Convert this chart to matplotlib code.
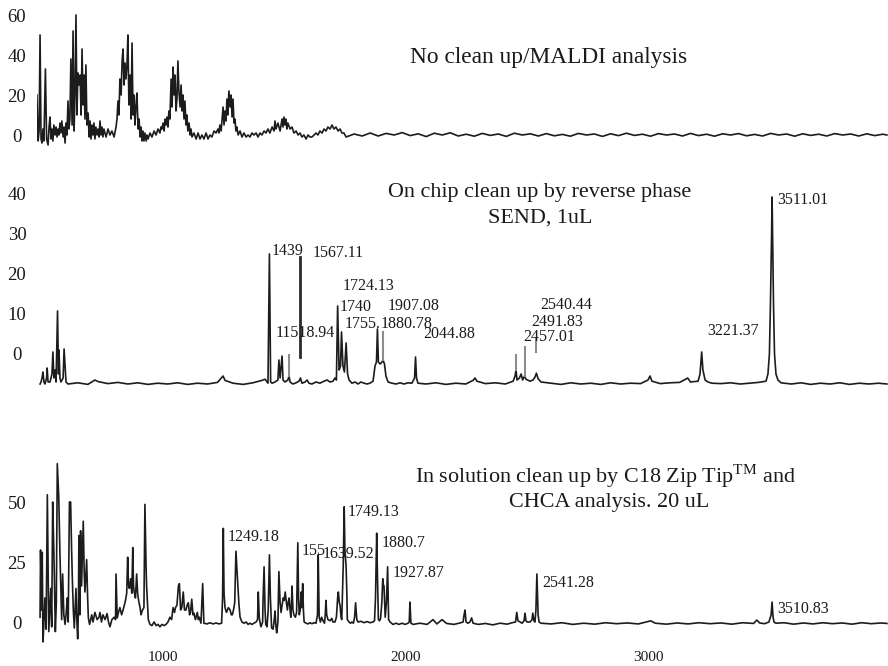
import matplotlib
matplotlib.use("Agg")
import matplotlib.pyplot as plt

plt.rcParams['font.family'] = ['Liberation Serif', 'DejaVu Serif']
plt.rcParams['mathtext.fontset'] = 'custom'
plt.rcParams['mathtext.rm'] = 'Liberation Serif'

# ---- panel 1: no clean up / MALDI (m/z, intensity)
maldi_trace = [
    (482, 20), (487, -3), (491, 2), (495, 50), (499, -2), (503, -4), (507, 3), (511, -3), (517, 33), (522, -2),
    (528, -5), (532, 4), (536, 9), (540, -2), (544, 3), (548, -3), (552, 5), (557, 0), (561, 4), (565, -1),
    (569, 3), (573, 0), (577, 6), (581, 1), (585, 7), (590, -1), (594, 4), (598, -4), (602, 6), (606, 0),
    (610, 17), (614, 3), (618, 8), (622, 38), (627, 5), (631, 52), (635, 2), (639, 20), (643, 60), (647, 10),
    (651, 31), (655, 25), (660, 30), (664, 10), (668, 43), (672, 15), (676, 30), (680, 8), (684, 35), (688, 5),
    (693, 11), (697, -1), (701, 7), (705, -2), (709, 5), (713, 0), (717, 6), (721, -2), (725, 4), (730, 0),
    (734, 3), (738, -1), (742, 7), (746, 0), (750, 4), (754, -1), (758, 3), (767, -1), (775, 3), (783, 0),
    (791, 2), (800, -1), (808, 4), (812, 8), (816, 17), (820, 10), (824, 28), (829, 20), (833, 37), (837, 43),
    (841, 25), (845, 36), (849, 28), (853, 35), (857, 50), (861, 15), (866, 30), (870, 8), (874, 46), (878, 10),
    (882, 20), (886, 5), (890, 14), (894, 21), (899, 3), (903, 8), (907, -1), (911, 4), (915, -3), (919, 2),
    (923, -3), (927, 1), (932, -3), (936, 0), (940, -2), (948, 1), (956, -1), (965, 2), (973, 0), (981, 3),
    (989, 1), (993, 4), (997, 3), (1002, 6), (1006, 2), (1010, 8), (1014, 5), (1018, 9), (1022, 4), (1026, 12),
    (1030, 8), (1035, 28), (1039, 14), (1043, 34), (1047, 20), (1051, 30), (1055, 12), (1059, 18), (1063, 37), (1067, 22),
    (1072, 14), (1076, 25), (1080, 12), (1084, 20), (1088, 8), (1092, 17), (1096, 5), (1100, 10), (1104, 2), (1109, 6),
    (1113, 0), (1117, 3), (1121, -1), (1129, 1), (1138, -2), (1146, 1), (1154, -2), (1162, 0), (1170, -2), (1179, 1),
    (1187, -2), (1195, 0), (1203, -1), (1212, 2), (1220, 1), (1228, 3), (1232, 1), (1236, 5), (1241, 2), (1245, 8),
    (1249, 14), (1253, 5), (1257, 12), (1261, 7), (1265, 18), (1269, 10), (1273, 22), (1278, 14), (1282, 20), (1286, 9),
    (1290, 18), (1294, 6), (1298, 8), (1302, 2), (1306, 4), (1311, 0), (1319, 2), (1327, -1), (1335, 1), (1344, -1),
    (1352, 0), (1360, -1), (1368, 1), (1376, 0), (1385, 1), (1393, -1), (1401, 1), (1409, 0), (1418, 2), (1426, 1),
    (1434, 3), (1442, 1), (1451, 4), (1459, 2), (1463, 7), (1467, 3), (1475, 6), (1484, 2), (1492, 8), (1496, 4),
    (1500, 9), (1504, 5), (1508, 8), (1512, 3), (1516, 6), (1525, 3), (1533, 4), (1541, 1), (1550, 2), (1558, 0),
    (1566, 1), (1574, -1), (1582, 0), (1591, -2), (1599, 0), (1607, -1), (1615, -1), (1624, 0), (1632, 1), (1640, 0),
    (1648, 2), (1657, 1), (1665, 3), (1673, 2), (1681, 4), (1690, 3), (1698, 5), (1706, 3), (1714, 4), (1723, 2),
    (1731, 3), (1739, 1), (1747, 1), (1756, -1), (1789, 0.5), (1822, -0.5), (1855, 1), (1888, -0.5), (1921, 0.8), (1954, 0),
    (1987, 1.2), (2020, -0.3), (2053, 0.6), (2086, -0.8), (2119, 0.9), (2152, 0), (2185, 1.1), (2218, -0.5), (2251, 0.4), (2284, -0.6),
    (2317, 0.8), (2350, -0.2), (2383, 0.5), (2416, -0.7), (2449, 0.9), (2482, 0), (2515, 0.6), (2548, -0.5), (2581, 0.7), (2614, -0.4),
    (2647, 0.3), (2680, -0.6), (2713, 0.8), (2746, 0), (2779, 0.5), (2812, -0.7), (2845, 0.6), (2878, -0.3), (2911, 0.9), (2944, -0.2),
    (2977, 0.4), (3010, -0.6), (3043, 0.7), (3076, 0), (3109, 0.5), (3142, -0.5), (3175, 0.8), (3208, -0.3), (3241, 0.4), (3274, -0.6),
    (3307, 0.6), (3340, 0), (3373, 0.7), (3406, -0.4), (3439, 0.3), (3472, -0.5), (3505, 0.8), (3538, 0), (3571, 0.5), (3604, -0.6),
    (3637, 0.6), (3670, -0.2), (3703, 0.4), (3736, -0.5), (3769, 0.7), (3802, 0), (3835, 0.5), (3868, -0.5), (3901, 0.6), (3934, -0.3),
    (3967, 0.4), (3984, 0),
]

# ---- panel 2: on chip clean up, SEND 1uL
send_trace = [
    (495, -7.5), (499, -7), (503, -6), (507, -4.5), (511, -7), (515, -7.5), (522, -6), (524, -3.5), (528, -7), (536, -7),
    (544, -5), (548, 0.5), (552, -6), (557, -4), (561, -7), (567, 10.75), (571, -5), (573, 1), (577, -6), (581, -7),
    (590, -6), (594, 1.25), (598, -3), (602, -7), (610, -7.5), (651, -7.2), (692, -7.6), (721, -6.5), (734, -6.9), (775, -7.4),
    (816, -7.1), (857, -7.5), (898, -7.2), (939, -7.6), (980, -7.3), (1021, -7.5), (1062, -7.2), (1103, -7.6), (1144, -7.3), (1185, -7.5),
    (1226, -7.1), (1249, -5.5), (1257, -6.6), (1290, -7.3), (1331, -7.6), (1372, -7.2), (1409, -6.6), (1422, -6.3), (1434, -7.3), (1440, 25),
    (1445, -7), (1451, -7.3), (1463, -7), (1475, -6.5), (1479, -1.5), (1484, -6), (1492, -0.5), (1496, -6.5), (1504, -7), (1516, -6.5),
    (1521, -5.5), (1525, -7), (1537, -7.5), (1550, -7.2), (1562, -6.8), (1568, -6), (1574, -7.3), (1587, -7), (1595, -6.5), (1603, -7.3),
    (1615, -7.5), (1632, -7), (1648, -7.3), (1665, -6.8), (1677, -6.5), (1690, -7), (1702, -6.8), (1710, -6), (1716, -6.5), (1721, 12),
    (1727, -4), (1733, -3), (1737, 5.5), (1743, -3), (1749, -4.5), (1756, 2.75), (1762, -5), (1768, -6.5), (1780, -7.3), (1793, -7),
    (1805, -7.5), (1817, -7), (1830, -7.3), (1842, -7.5), (1854, -7.3), (1867, -6.8), (1875, -3), (1881, -2), (1885, 6.25), (1889, -2),
    (1896, -2.5), (1904, -2), (1908, -1.5), (1914, -2.5), (1920, -5.5), (1929, -7), (1945, -7.3), (1962, -7.5), (1978, -7.2), (1994, -7.5),
    (2011, -7.2), (2027, -7.3), (2038, -6), (2042, -0.75), (2046, -6), (2052, -7.3), (2085, -7.5), (2126, -7.2), (2167, -7.6), (2208, -7.3),
    (2249, -7.5), (2279, -6.6), (2287, -6), (2295, -6.8), (2330, -7.4), (2371, -7.2), (2412, -7.5), (2444, -6.8), (2452, -5.5), (2456, -4),
    (2460, -6.5), (2470, -6), (2477, -5), (2483, -6.5), (2491, -5.5), (2497, -6.3), (2514, -6.8), (2526, -6.5), (2534, -5.8), (2540, -4.8),
    (2547, -6.2), (2559, -7), (2600, -7.3), (2641, -7.6), (2682, -7.2), (2723, -7.5), (2764, -7.3), (2805, -7.6), (2846, -7.2), (2887, -7.5),
    (2928, -7.3), (2969, -7.4), (3000, -6.5), (3008, -5.5), (3016, -6.8), (3050, -7.4), (3091, -7.2), (3130, -7.1), (3155, -6.3), (3163, -6),
    (3175, -7), (3206, -6.8), (3214, -5), (3221, 0.5), (3226, -4), (3235, -6.5), (3247, -7), (3263, -7.3), (3300, -7.4), (3340, -7.2),
    (3380, -7.5), (3420, -7.3), (3455, -7.1), (3486, -6.8), (3494, -5), (3500, 0), (3504, 11.75), (3509, 30), (3511, 39.25), (3513, 30),
    (3517, 12), (3521, 0), (3527, -5), (3535, -6.5), (3548, -7.2), (3590, -7.5), (3630, -7.2), (3670, -7.6), (3710, -7.3), (3750, -7.5),
    (3790, -7.2), (3830, -7.6), (3870, -7.3), (3910, -7.5), (3950, -7.3), (3984, -7.5),
]
# leader lines (m/z, from, to)
send_dark_leaders = [(1568, -0.75, 24.25)]
send_gray_leaders = [(1521, -5.5, -0.25), (1908, -1.5, 5.5), (2456, -4, -0.25), (2491, -5.5, 1.75), (2540, 0.5, 4)]
send_labels = ["1439", "1567.11", "1724.13", "1740", "1907.08", "1755.", "1880.78", "11518.94",
               "2044.88", "2540.44", "2491.83", "2457.01", "3221.37", "3511.01"]
send_label_mz = [1451, 1620, 1743, 1731, 1929, 1751, 1899, 1467, 2073, 2555, 2518, 2485, 3243, 3531]
send_label_y = [25.75, 25.25, 17, 11.75, 12.0, 7.6, 7.6, 5.25, 5, 12.25, 8.0, 4.2, 5.75, 38.5]

# ---- panel 3: in solution clean up, C18 Zip Tip
ziptip_trace = [
    (495, 2), (497, 30), (501, 5), (504, 29), (507, -8.3), (511, 0), (515, 10), (520, -3), (525, 53), (531, -4),
    (535, 5), (539, 14), (543, -2), (547, 50), (552, 29), (558, -4), (562, 8), (566, 66), (572, 52), (577, 28),
    (584, 1), (588, 20), (593, 3), (598, -1), (603, 4), (607, 10), (611, 0), (616, 50), (621, 50), (625, 30),
    (628, 18), (632, 5), (636, -2.5), (643, 14), (646, 2), (650, -7), (653, 5), (655, 36), (659, 3), (662, 38),
    (666, 15), (669, 27), (673, 42), (677, 20), (680, 12.5), (687, 26), (691, 10), (694, 1.7), (699, -1), (708, 3),
    (713, 0), (721, 4), (730, 1), (738, 2), (742, 4), (748, 0), (754, 3), (763, 1), (771, 3.5), (777, 0),
    (783, -2), (791, 1), (800, 2), (806, 1), (808, 20), (813, 1.7), (818, 4), (824, 6), (831, 3), (837, 5),
    (841, 6.5), (847, 9), (852, 12), (856, 27), (859, 16), (863, 14), (868, 18), (873, 12), (877, 31), (880, 15),
    (883, 12.5), (888, 10), (893, 20), (897, 12), (901, 9), (907, 6), (911, 3), (917, 5), (923, 6), (927, 49),
    (932, 22), (934, 15), (941, 1), (948, -1), (956, -1.5), (965, 0), (973, -1.5), (981, -1), (989, -2), (997, -1),
    (1006, -1.5), (1014, -1), (1022, 0), (1030, 2), (1037, 1), (1043, 6), (1049, 4), (1053, 6), (1059, 7), (1065, 15),
    (1069, 16), (1074, 5), (1079, 6), (1085, 12.5), (1090, 5), (1096, 5), (1101, 7), (1106, 8), (1111, 3), (1115, 4),
    (1120, 9.5), (1125, 3), (1129, 3.7), (1135, 1), (1143, 4), (1147, 1), (1151, 2), (1158, -0.5), (1165, 16), (1170, -0.5),
    (1183, -0.8), (1195, -0.3), (1208, -0.8), (1220, -0.4), (1232, -0.8), (1243, -0.5), (1247, 10), (1250, 39), (1253, 12), (1257, 6),
    (1263, 4), (1271, 6), (1278, 5), (1283, 3), (1287, 3), (1292, 5), (1297, 8), (1302, 29.5), (1309, 17), (1314, 8),
    (1319, 2), (1327, 0), (1335, -0.5), (1344, 0), (1352, -1), (1360, -0.5), (1368, -1), (1376, -0.5), (1385, 0), (1391, 1),
    (1394, 12.5), (1398, 2), (1401, 0), (1405, -2), (1412, 0), (1414, 10), (1418, 23), (1422, 5), (1425, -1), (1430, -2),
    (1435, 5), (1440, 28), (1444, 10), (1449, -2.5), (1455, -3), (1459, 0), (1463, 4.6), (1467, -2), (1470, -4.5), (1475, 0),
    (1479, 21), (1484, 8), (1488, 4), (1492, 7), (1497, 10), (1501, 9), (1505, 12.5), (1510, 8), (1514, 5), (1517, 8),
    (1521, 10), (1525, 5), (1528, 2), (1531, 8), (1533, 15), (1537, 5), (1541, 3), (1547, 2), (1552, 4), (1557, 33),
    (1560, 10), (1563, 3), (1567, 5), (1571, 12.5), (1574, 6), (1577, 16), (1580, 5), (1583, 0), (1591, -0.5), (1599, -0.8),
    (1607, -0.3), (1615, -0.7), (1624, -0.3), (1632, -0.5), (1638, 3), (1641, 28), (1645, 2), (1650, 0), (1655, 2), (1661, 0.5),
    (1667, -0.5), (1670, 3), (1673, 9), (1676, 3), (1681, 1), (1690, 0.5), (1697, 1.5), (1702, 0), (1710, 0), (1716, 2),
    (1721, 10), (1724, 12.5), (1728, 8), (1731, 7), (1735, 2), (1738, 1), (1741, 12), (1744, 23), (1748, 48), (1751, 30),
    (1756, 23), (1759, 12), (1761, 1), (1768, 0), (1774, -0.5), (1780, 0), (1786, -0.5), (1791, 2), (1795, 8), (1800, 1),
    (1805, 0), (1817, 0.3), (1830, -0.3), (1842, 0.2), (1854, -0.3), (1867, 0), (1873, 0.5), (1877, 10), (1882, 37), (1885, 20),
    (1889, 1), (1894, 0.5), (1898, 1.5), (1903, 8), (1907, 18), (1910, 15), (1912, 15), (1917, 2), (1922, 8), (1927, 23),
    (1931, 1), (1937, 0), (1949, -1), (1962, -0.5), (1974, -1), (1986, -0.5), (1999, -1), (2011, -0.5), (2016, 0), (2019, 8.3),
    (2023, -0.5), (2032, -1), (2060, -0.5), (2090, -1), (2114, 1), (2130, -0.8), (2151, 1), (2170, -0.6), (2200, -1), (2225, -0.4),
    (2238, 0), (2242, 3), (2246, 5), (2250, 0), (2258, -0.5), (2266, 0), (2273, 1.7), (2279, -0.5), (2300, -1), (2330, -0.6),
    (2360, -1.2), (2390, -0.5), (2420, -0.9), (2440, -0.3), (2454, 0), (2459, 4), (2464, 0.5), (2473, 0), (2481, -0.5), (2489, 0.5),
    (2493, 3.7), (2497, 0.5), (2502, 0), (2514, 0), (2522, 1), (2525, 3.7), (2530, 0.5), (2534, 0), (2538, 5), (2542, 20),
    (2547, 3), (2551, 0), (2559, -0.5), (2600, -0.8), (2645, -0.3), (2690, -1), (2735, -0.5), (2780, -0.9), (2825, -0.3), (2870, -0.7),
    (2915, -0.4), (2960, -0.8), (3000, 0.2), (3010, 0.5), (3030, -0.5), (3075, -0.9), (3120, -0.4), (3165, -0.8), (3210, -0.3), (3255, -0.7),
    (3300, -0.4), (3345, -0.9), (3390, -0.3), (3435, -0.6), (3448, 0.8), (3460, -0.4), (3480, -0.7), (3498, 0), (3507, 3), (3511, 8.3),
    (3515, 2), (3519, 0), (3527, -0.5), (3560, -0.3), (3600, -0.9), (3640, -0.4), (3680, -0.8), (3720, -0.3), (3760, -0.7), (3800, -0.4),
    (3840, -0.9), (3880, -0.3), (3920, -0.7), (3960, -0.4), (3984, -0.6),
]
ziptip_labels = ["1249.18", "155", "1639.52", "1749.13", "1880.7", "1927.87", "2541.28", "3510.83"]
ziptip_label_mz = [1269, 1574, 1661, 1764, 1904, 1949, 2563, 3531]
ziptip_label_y = [35.4, 29.6, 28.3, 45.8, 32.9, 20.4, 16.25, 5.4]

x_ticks = [1000, 2000, 3000]
line_col = "#1c1c1c"
txt_col = "#1a1a1a"

fig = plt.figure(figsize=(8.88, 6.66), dpi=100)


def make_axes(top_px, bot_px, ylim, yticks):
    ax = fig.add_axes([37 / 888, 1 - bot_px / 666, 851 / 888, (bot_px - top_px) / 666])
    ax.set_xlim(482.4, 3988.6)
    ax.set_ylim(*ylim)
    for s in ax.spines.values():
        s.set_visible(False)
    ax.set_yticks(yticks)
    ax.set_yticklabels([str(t) for t in yticks])
    ax.tick_params(axis='y', length=0, pad=14.4, labelsize=13.5, labelcolor=txt_col)
    plt.setp(ax.get_yticklabels(), ha='center')
    ax.set_xticks([])
    return ax


ax1 = make_axes(5, 150, (-7.5, 65), [0, 20, 40, 60])
ax1.plot([p[0] for p in maldi_trace], [p[1] for p in maldi_trace], color=line_col, lw=1.2)
ax1.text(2592, 39, "No clean up/MALDI analysis", ha='center', va='center', fontsize=16.8, color=txt_col)

ax2 = make_axes(185, 395, (-10.25, 42.25), [0, 10, 20, 30, 40])
ax2.plot([p[0] for p in send_trace], [p[1] for p in send_trace], color=line_col, lw=1.2)
for m, lo, hi in send_dark_leaders:
    ax2.plot([m, m], [lo, hi], color="#2a2a2a", lw=2.0)
for m, lo, hi in send_gray_leaders:
    ax2.plot([m, m], [lo, hi], color="#8c8c8c", lw=1.5)
for lab, m, y in zip(send_labels, send_label_mz, send_label_y):
    ax2.text(m, y, lab, ha='left', va='center', fontsize=11.5, color=txt_col)
ax2.text(2555, 40.25, "On chip clean up by reverse phase", ha='center', va='center', fontsize=15.9, color=txt_col)
ax2.text(2555, 34, "SEND, 1uL", ha='center', va='center', fontsize=15.9, color=txt_col)

ax3 = make_axes(445, 645, (-9.58, 73.75), [0, 25, 50])
ax3.plot([p[0] for p in ziptip_trace], [p[1] for p in ziptip_trace], color=line_col, lw=1.2)
for lab, m, y in zip(ziptip_labels, ziptip_label_mz, ziptip_label_y):
    ax3.text(m, y, lab, ha='left', va='center', fontsize=11.5, color=txt_col)
ax3.text(2823, 60.8, r"In solution clean up by C18 Zip Tip$^{\mathrm{TM}}$ and", ha='center', va='center',
         fontsize=15.9, color=txt_col)
ax3.text(2839, 49.6, "CHCA analysis. 20 uL", ha='center', va='center', fontsize=15.9, color=txt_col)
ax3.set_xticks(x_ticks)
ax3.set_xticklabels([str(t) for t in x_ticks])
ax3.tick_params(axis='x', length=0, pad=4, labelsize=11, labelcolor=txt_col)

fig.savefig("out.png", dpi=100)
